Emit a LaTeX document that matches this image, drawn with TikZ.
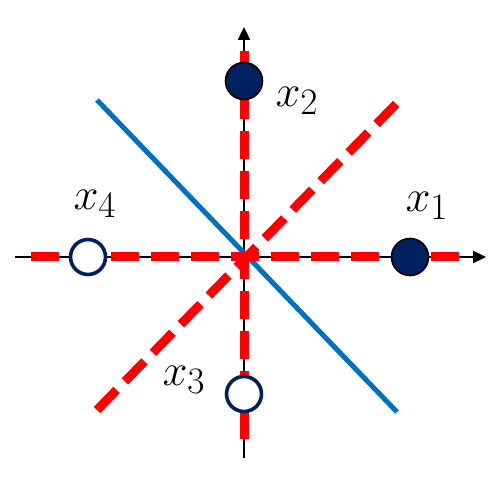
\documentclass[tikz,border=0pt]{standalone}
\usetikzlibrary{arrows.meta}
\definecolor{dotnavy}{HTML}{002060}
\definecolor{lineblue}{HTML}{0070C0}
\tikzset{
  axisline/.style={line width=2.4pt,-{Triangle[length=13pt,width=12pt]}},
  redline/.style={red,line width=9pt,dash pattern=on 28pt off 12pt},
  fulldot/.style={circle,draw=black,line width=1.6pt,fill=dotnavy,minimum size=37pt,inner sep=0pt},
  emptydot/.style={circle,draw=dotnavy,line width=3.6pt,fill=white,minimum size=35pt,inner sep=0pt},
  lbl/.style={font=\Huge,scale=1.8}
}
\begin{document}
\begin{tikzpicture}[x=1pt,y=-1pt]
  \useasboundingbox (0,0) rectangle (499,484);
  \coordinate (O) at (244,257);
  % axes
  \draw[axisline,-] (15,257) -- (O);
  \draw[axisline] (O) -- (486,257);
  \draw[axisline,-] (244,458) -- (O);
  \draw[axisline] (O) -- (244,27);
  % separating line
  \draw[lineblue,line width=5pt] (97,100) -- (397,412);
  % dashed lines
  \draw[redline] (31,257) -- (468,257);
  \draw[redline] (244,51) -- (244,447);
  \draw[redline] (97,410) -- (400,100);
  % points
  \node[fulldot] (p1) at (410,257) {};
  \node[fulldot] (p2) at (244,81) {};
  \node[emptydot] (p3) at (244,394) {};
  \node[emptydot] (p4) at (88,257) {};
  \node[lbl] (l1) at (427,206) {$x_1$};
  \node[lbl] (l2) at (297,101) {$x_2$};
  \node[lbl] (l3) at (184,380) {$x_3$};
  \node[lbl] (l4) at (95,204) {$x_4$};
\end{tikzpicture}
\end{document}
